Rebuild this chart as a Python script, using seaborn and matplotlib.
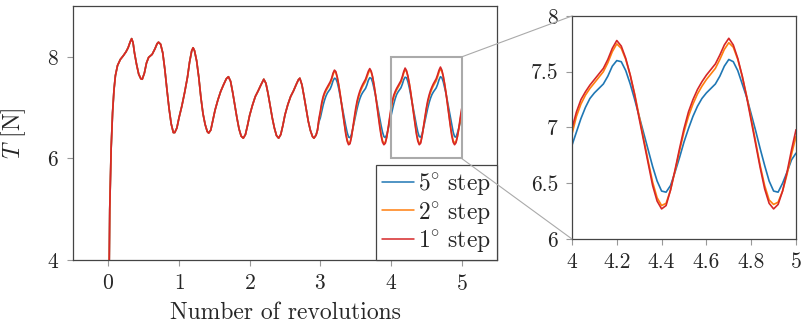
import numpy as np
import pandas as pd
import matplotlib
matplotlib.use("Agg")
import matplotlib.pyplot as plt
from matplotlib.patches import Rectangle, ConnectionPatch
import seaborn as sns

# shared start of the curve (all three step sizes coincide here)
rev_common = [0.0, 0.02, 0.04, 0.06, 0.08, 0.10, 0.13, 0.17, 0.21, 0.25, 0.28, 0.31, 0.33, 0.35,
              0.37, 0.40, 0.43, 0.46, 0.48, 0.51, 0.54, 0.57, 0.62, 0.66, 0.69, 0.71, 0.74, 0.77,
              0.80, 0.83, 0.86, 0.89, 0.92, 0.94, 0.97, 1.00, 1.04, 1.08, 1.12, 1.15, 1.18, 1.20,
              1.22, 1.25, 1.28, 1.31, 1.34, 1.37, 1.40, 1.42, 1.45, 1.48, 1.51, 1.55, 1.59, 1.63,
              1.67, 1.70, 1.73, 1.76, 1.79, 1.82, 1.85, 1.88, 1.91, 1.94, 1.97, 2.00, 2.04, 2.08,
              2.12, 2.16, 2.20, 2.23, 2.26, 2.29, 2.32, 2.35, 2.38, 2.41, 2.44, 2.47, 2.50, 2.54,
              2.58, 2.62, 2.66, 2.69, 2.71, 2.74, 2.77, 2.80, 2.83, 2.86, 2.89, 2.91, 2.94, 2.96]
T_common = [2.0, 5.0, 6.2, 6.9, 7.35, 7.63, 7.83, 7.95, 8.02, 8.10, 8.18, 8.30, 8.36, 8.28,
            8.08, 7.85, 7.66, 7.57, 7.56, 7.68, 7.88, 7.99, 8.05, 8.16, 8.26, 8.29, 8.25, 8.08,
            7.75, 7.35, 6.98, 6.68, 6.51, 6.51, 6.60, 6.80, 7.03, 7.30, 7.60, 7.90, 8.12, 8.18,
            8.12, 7.92, 7.60, 7.20, 6.88, 6.67, 6.53, 6.50, 6.56, 6.75, 6.95, 7.15, 7.32, 7.45,
            7.57, 7.61, 7.52, 7.30, 7.05, 6.80, 6.58, 6.44, 6.40, 6.47, 6.65, 6.85, 7.05, 7.22,
            7.33, 7.45, 7.56, 7.48, 7.28, 7.04, 6.80, 6.60, 6.45, 6.40, 6.47, 6.65, 6.86, 7.06,
            7.22, 7.33, 7.46, 7.55, 7.58, 7.45, 7.22, 6.97, 6.73, 6.55, 6.43, 6.40, 6.46, 6.56]

# after ~3 revolutions the step sizes separate
rev_tail = [round(2.98 + 0.02 * i, 2) for i in range(102)]

T_1deg = [6.78,
          6.93, 7.10, 7.22, 7.30, 7.36, 7.41, 7.46, 7.51, 7.58, 7.68, 7.74, 7.71, 7.60, 7.45, 7.27,
          7.07, 6.87, 6.67, 6.48, 6.34, 6.27, 6.29, 6.42, 6.60, 6.80, 6.98, 7.13, 7.24, 7.33, 7.40,
          7.46, 7.51, 7.56, 7.64, 7.72, 7.77, 7.72, 7.61, 7.45, 7.26, 7.05, 6.84, 6.63, 6.45, 6.32,
          6.27, 6.30, 6.42, 6.60, 6.80,
          6.99, 7.14, 7.25, 7.32, 7.38, 7.43, 7.48, 7.53, 7.61, 7.71, 7.78, 7.73, 7.62, 7.47, 7.29,
          7.08, 6.88, 6.68, 6.48, 6.34, 6.27, 6.30, 6.44, 6.62, 6.81, 6.99, 7.14, 7.25, 7.34, 7.41,
          7.47, 7.52, 7.57, 7.65, 7.74, 7.80, 7.74, 7.62, 7.46, 7.27, 7.06, 6.85, 6.64, 6.45, 6.32,
          6.27, 6.31, 6.43, 6.60, 6.80, 6.98]

T_2deg = [6.76,
          6.89, 7.06, 7.18, 7.27, 7.33, 7.38, 7.43, 7.48, 7.55, 7.65, 7.72, 7.69, 7.59, 7.45, 7.28,
          7.09, 6.89, 6.69, 6.51, 6.37, 6.30, 6.31, 6.42, 6.59, 6.77, 6.94, 7.09, 7.20, 7.29, 7.36,
          7.42, 7.47, 7.52, 7.60, 7.68, 7.74, 7.70, 7.60, 7.45, 7.27, 7.07, 6.86, 6.66, 6.48, 6.35,
          6.30, 6.32, 6.42, 6.58, 6.77,
          6.94, 7.10, 7.21, 7.29, 7.35, 7.40, 7.45, 7.50, 7.58, 7.68, 7.75, 7.71, 7.61, 7.47, 7.30,
          7.10, 6.90, 6.70, 6.51, 6.37, 6.30, 6.32, 6.44, 6.61, 6.79, 6.96, 7.10, 7.21, 7.30, 7.37,
          7.43, 7.48, 7.53, 7.61, 7.70, 7.76, 7.72, 7.61, 7.46, 7.28, 7.08, 6.87, 6.66, 6.48, 6.35,
          6.31, 6.33, 6.43, 6.58, 6.76, 6.92]

T_5deg = [6.72,
          6.80, 6.93, 7.05, 7.15, 7.23, 7.29, 7.33, 7.37, 7.44, 7.53, 7.58, 7.57, 7.50, 7.38, 7.24,
          7.09, 6.94, 6.79, 6.64, 6.51, 6.42, 6.41, 6.47, 6.59, 6.72, 6.86, 6.98, 7.09, 7.18, 7.25,
          7.30, 7.34, 7.38, 7.45, 7.54, 7.59, 7.58, 7.50, 7.38, 7.25, 7.10, 6.95, 6.80, 6.65, 6.52,
          6.43, 6.41, 6.47, 6.58, 6.71,
          6.84, 6.96, 7.08, 7.18, 7.26, 7.31, 7.35, 7.39, 7.46, 7.55, 7.60, 7.59, 7.51, 7.39, 7.25,
          7.10, 6.95, 6.80, 6.65, 6.52, 6.43, 6.42, 6.48, 6.60, 6.73, 6.87, 6.99, 7.10, 7.19, 7.26,
          7.31, 7.35, 7.39, 7.46, 7.55, 7.61, 7.59, 7.51, 7.39, 7.27, 7.12, 6.97, 6.81, 6.66, 6.52,
          6.43, 6.42, 6.50, 6.60, 6.71, 6.77]

labels = ["$5^{\\circ}\\ \\mathrm{step}$", "$2^{\\circ}\\ \\mathrm{step}$", "$1^{\\circ}\\ \\mathrm{step}$"]
tails = [T_5deg, T_2deg, T_1deg]
colors = ["#1f77b4", "#ff7f0e", "#d62728"]

frames = []
for lab, tail in zip(labels, tails):
    frames.append(pd.DataFrame({"rev": rev_common + rev_tail,
                                "T": T_common + tail,
                                "step": lab}))
df = pd.concat(frames, ignore_index=True)

sns.set_style("ticks")
plt.rcParams["font.family"] = ["cmr10", "DejaVu Serif"]
plt.rcParams["mathtext.fontset"] = "cm"
plt.rcParams["axes.formatter.use_mathtext"] = True
plt.rcParams["font.size"] = 15

fig = plt.figure(figsize=(8.03, 3.28), dpi=100)
ax = fig.add_axes([0.0909, 0.2073, 0.528, 0.774])
axz = fig.add_axes([0.7123, 0.2713, 0.279, 0.680])

for a in (ax, axz):
    sns.lineplot(data=df, x="rev", y="T", hue="step", hue_order=labels,
                 palette=colors, sort=False, estimator=None, linewidth=1.2,
                 ax=a, legend=False)
    for s in a.spines.values():
        s.set_color("#444444")
        s.set_linewidth(0.9)
    a.tick_params(direction="out", length=4, width=0.8, color="#999999",
                  labelsize=15.5, pad=6)
    a.set_xlabel("")
    a.set_ylabel("")

ax.set_xlim(-0.5, 5.5)
ax.set_ylim(4, 9)
ax.set_xticks([0, 1, 2, 3, 4, 5])
ax.set_yticks([4, 6, 8])
ax.set_xlabel("Number of revolutions", fontsize=17, labelpad=6)
ax.set_ylabel("$T$ [N]", fontsize=17, labelpad=14)

axz.set_xlim(4, 5)
axz.set_ylim(6, 8)
axz.set_xticks([4, 4.2, 4.4, 4.6, 4.8, 5])
axz.set_xticklabels(["4", "4.2", "4.4", "4.6", "4.8", "5"])
axz.set_yticks([6, 6.5, 7, 7.5, 8])
axz.set_yticklabels(["6", "6.5", "7", "7.5", "8"])

handles = [plt.Line2D([], [], color=c, lw=1.1) for c in colors]
leg = ax.legend(handles, labels, loc="lower right", fontsize=17, frameon=True,
                fancybox=False, framealpha=1, edgecolor="#444444",
                borderaxespad=0, handlelength=1.35, handletextpad=0.2,
                labelspacing=0.1, borderpad=0.25)
leg.get_frame().set_linewidth(0.9)

ax.add_patch(Rectangle((4, 6), 1, 2, fill=False, edgecolor="#aaaaaa", lw=1.5, zorder=5))
for yv in (8, 6):
    con = ConnectionPatch(xyA=(5, yv), coordsA=ax.transData,
                          xyB=(4, yv), coordsB=axz.transData,
                          color="#aaaaaa", lw=0.8)
    fig.add_artist(con)

fig.savefig("out.png", dpi=100)
